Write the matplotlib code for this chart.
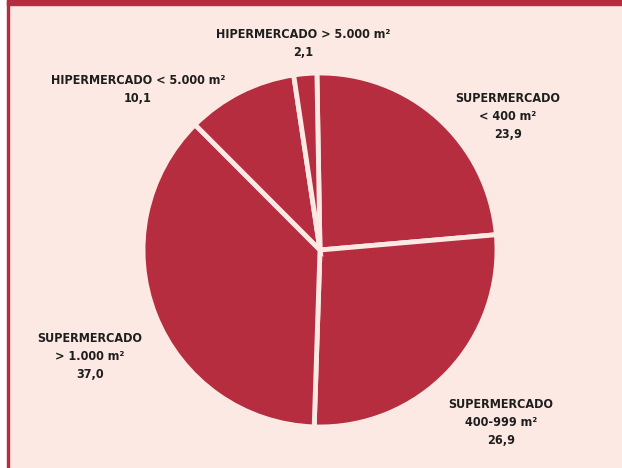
import matplotlib.pyplot as plt
from matplotlib.patches import Rectangle
from matplotlib import font_manager

# share by store type (%)
categories = ["SUPERMERCADO\n< 400 m²", "SUPERMERCADO\n400-999 m²", "SUPERMERCADO\n> 1.000 m²",
              "HIPERMERCADO < 5.000 m²", "HIPERMERCADO > 5.000 m²"]
values = [23.9, 26.9, 37.0, 10.1, 2.1]
value_labels = ["23,9", "26,9", "37,0", "10,1", "2,1"]

# label centres in pixels (from top-left), same order as categories
label_pos = [(508, 117), (501, 423), (90, 357), (138, 90), (303, 43)]

RED = "#b52d3e"
BG = "#fce9e3"
W, H = 622, 468

fonts = font_manager.fontManager.ttflist
narrow = [f for f in fonts if f.name == "Liberation Sans Narrow"]
condensed = [f for f in fonts if f.name == "DejaVu Sans" and f.stretch == "condensed"]
if narrow:
    font_kw = dict(fontfamily="Liberation Sans Narrow", fontweight="bold")
elif condensed:
    font_kw = dict(fontfamily="DejaVu Sans", fontstretch="condensed", fontweight="bold")
else:
    font_kw = dict(fontfamily="DejaVu Sans", fontweight="bold")

fig = plt.figure(figsize=(W / 100, H / 100), dpi=100)
fig.patch.set_facecolor("white")
ax = fig.add_axes([0, 0, 1, 1])

# frame: pink panel, red band on top, thin red line on the left
ax.add_patch(Rectangle((9, 0), W - 9, H, color=BG, zorder=0))
ax.add_patch(Rectangle((7, H - 5), W - 7, 5, color=RED, zorder=1))
ax.add_patch(Rectangle((7, 0), 2, H, color=RED, zorder=1))

ax.pie(values, colors=[RED] * len(values), startangle=91, counterclock=False,
       center=(320, H - 250), radius=177, frame=True,
       wedgeprops=dict(edgecolor=BG, linewidth=3.5))
ax.set_xlim(0, W)
ax.set_ylim(0, H)
ax.set_aspect("auto")
ax.axis("off")

for name, val, (x, y) in zip(categories, value_labels, label_pos):
    ax.text(x, H - y, name + "\n" + val, ha="center", va="center",
            fontsize=9, color="#1e1e1e", linespacing=1.5, zorder=5, **font_kw)

fig.savefig("out.png", dpi=100, facecolor=fig.get_facecolor())
